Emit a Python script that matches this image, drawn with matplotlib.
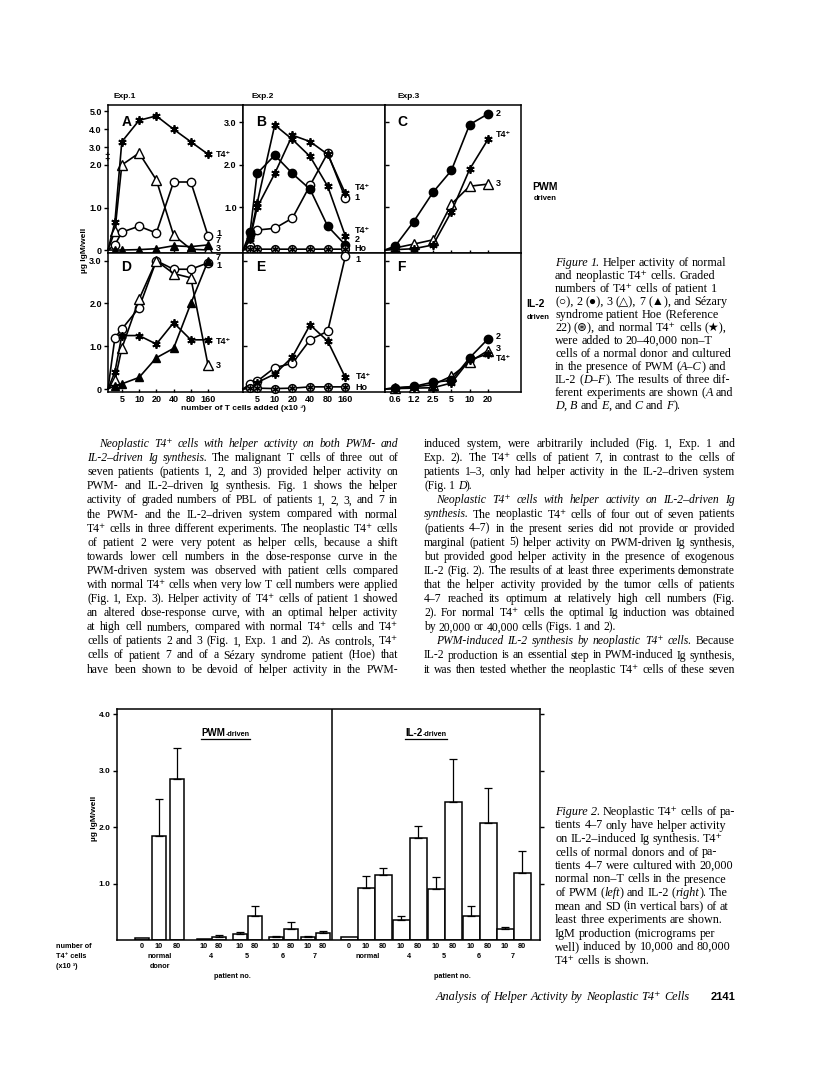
import numpy as np
import matplotlib.pyplot as plt
from matplotlib.lines import Line2D

W, H = 816, 1067
SERIF = ['Liberation Serif', 'DejaVu Serif', 'DejaVu Sans']
SANS = ['Liberation Sans', 'DejaVu Sans']
plt.rcParams['font.family'] = SANS
plt.rcParams['axes.linewidth'] = 1.1

# ---------------- Figure 1 data (ug IgM/well vs number of T cells x10^3) ----------------
dose_ab = [0, 2.5, 5, 10, 20, 40, 80, 160]
dose_cf = [0, 0.6, 1.2, 2.5, 5, 10, 20]
ticks_ab = [5, 10, 20, 40, 80, 160]
ticks_cf = [0.6, 1.2, 2.5, 5, 10, 20]
tick_labels_cf = ['0.6', '1.2', '2.5', '5', '10', '20']

a_p1 = [0, 0.12, 0.42, 0.56, 0.40, 1.6, 1.6, 0.33]
a_p3 = [0, 0.45, 2.0, 2.67, 1.65, 0.35, 0.02, 0.0]
a_p7 = [0, 0.0, 0.0, 0.01, 0.03, 0.10, 0.08, 0.12]
a_t4 = [0, 0.66, 3.3, 4.5, 4.75, 4.0, 3.3, 2.6]

b_p1 = [0, 0.10, 0.47, 0.51, 0.75, 1.52, 2.28, 1.22]
b_p2 = [0, 0.42, 1.8, 2.23, 1.8, 1.43, 0.56, 0.12]
b_t4a = [0, 0.30, 1.1, 2.94, 2.6, 2.2, 1.5, 0.33]
b_t4b = [0, 0.25, 1.0, 1.8, 2.7, 2.55, 2.25, 1.33]
b_ho = [0, 0.02, 0.02, 0.02, 0.02, 0.02, 0.02, 0.02]

c_p2 = [0, 0.10, 0.67, 1.36, 1.87, 2.95, 3.2]
c_p3 = [0, 0.05, 0.14, 0.24, 1.08, 1.5, 1.55]
c_t4 = [0, 0.01, 0.03, 0.12, 0.9, 1.9, 2.6]

d_p1 = [0, 1.2, 1.4, 1.9, 3.0, 2.8, 2.8, 2.95]
d_p3 = [0, 0.2, 0.95, 2.1, 3.0, 2.7, 2.6, 0.55]
d_p7 = [0, 0.08, 0.12, 0.27, 0.73, 0.95, 2.0, 3.0]
d_t4 = [0, 0.4, 1.25, 1.25, 1.05, 1.55, 1.15, 1.15]

e_p1 = [0, 0.12, 0.18, 0.5, 0.6, 1.15, 1.35, 3.1]
e_t4 = [0, 0.02, 0.15, 0.35, 0.75, 1.5, 1.12, 0.27]
e_ho = [0, 0.03, 0.02, 0.01, 0.02, 0.05, 0.05, 0.05]

f_p2 = [0, 0.03, 0.06, 0.16, 0.2, 0.73, 1.17]
f_p3 = [0, 0.02, 0.05, 0.10, 0.3, 0.63, 0.9]
f_t4 = [0, 0.01, 0.02, 0.03, 0.14, 0.68, 0.82]

# ---------------- Figure 2 data ----------------
bar_cells = ['0', '10', '80', '10', '80', '10', '80', '10', '80', '10', '80']
pwm_mean = [0.03, 1.85, 2.85, 0.02, 0.06, 0.10, 0.42, 0.05, 0.20, 0.05, 0.12]
pwm_sd = [0, 0.65, 0.55, 0, 0.03, 0.05, 0.18, 0.02, 0.12, 0.02, 0.04]
il2_mean = [0.05, 0.92, 1.15, 0.35, 1.80, 0.90, 2.45, 0.42, 2.08, 0.20, 1.18]
il2_sd = [0, 0.22, 0.12, 0.08, 0.22, 0.22, 0.75, 0.18, 0.62, 0.03, 0.40]

fig = plt.figure(figsize=(W / 100, H / 100), dpi=100)
fig.patch.set_facecolor('white')
renderer = fig.canvas.get_renderer()


def rect(x0, y0, x1, y1):
    return [x0 / W, 1 - y1 / H, (x1 - x0) / W, (y1 - y0) / H]


def ftext(x, y, s, **kw):
    return fig.text(x / W, 1 - y / H, s, **kw)


# ---------- text helpers (measure, justify) ----------
_cache = {}


def width(s, size, italic=False, family=SERIF, weight='normal'):
    key = (s, size, italic, tuple(family), weight)
    if key not in _cache:
        t = fig.text(0, 0, s, fontsize=size, family=family,
                     style='italic' if italic else 'normal', weight=weight)
        _cache[key] = t.get_window_extent(renderer).width
        t.remove()
    return _cache[key]


def parse(line):
    words, cur, buf, ital = [], [], '', False
    for ch in line:
        if ch == '*':
            if buf:
                cur.append((buf, ital))
                buf = ''
            ital = not ital
        elif ch == ' ':
            if buf:
                cur.append((buf, ital))
                buf = ''
            if cur:
                words.append(cur)
                cur = []
        else:
            buf += ch
    if buf:
        cur.append((buf, ital))
    if cur:
        words.append(cur)
    return words


def space(size):
    return width('a a', size) - width('aa', size)


def natural_width(line, size):
    words = parse(line)
    return sum(width(t, size, it) for w in words for t, it in w) + space(size) * (len(words) - 1)


def draw_line(line, x0, x1, y, size, justify=True, indent=0):
    words = parse(line)
    ws = [[width(t, size, it) for t, it in w] for w in words]
    total = sum(sum(w) for w in ws)
    gap = space(size)
    if justify and len(words) > 1:
        gap = (x1 - x0 - indent - total) / (len(words) - 1)
    x = x0 + indent
    for w, wl in zip(words, ws):
        for (t, it), wd in zip(w, wl):
            ftext(x, y, t, fontsize=size, family=SERIF,
                  style='italic' if it else 'normal', va='baseline')
            x += wd
        x += gap


# ---------------- Figure 1 ----------------
def dose_scale(x0, a):
    def fwd(x):
        x = np.asarray(x, dtype=float)
        return np.where(x <= x0, a * x / x0, a + np.log2(np.maximum(x, 1e-6) / x0))

    def inv(u):
        u = np.asarray(u, dtype=float)
        return np.where(u <= a, u * x0 / a, x0 * 2.0 ** (u - a))
    return fwd, inv


def ybreak_fwd(y):
    y = np.asarray(y, dtype=float)
    return np.where(y <= 2, y, 2 + (y - 2) * 0.42)


def ybreak_inv(v):
    v = np.asarray(v, dtype=float)
    return np.where(v <= 2, v, 2 + (v - 2) / 0.42)


MK = {
    'p1': dict(marker='o', ms=6, mfc='white'),
    'p2': dict(marker='o', ms=6, mfc='black'),
    'p3': dict(marker='^', ms=6.5, mfc='white'),
    'p7': dict(marker='^', ms=6, mfc='black'),
    't4': dict(marker=(6, 2, 0), ms=6, mew=1.3),
    'ho': dict(marker='o', ms=5.5, mfc='white', mew=1.1),
}

grid_x = [108, 243, 385, 521]
grid_y = [105, 253, 392]
panels = {}
for r, row in enumerate(['ABC', 'DEF']):
    for c, name in enumerate(row):
        ax = fig.add_axes(rect(grid_x[c], grid_y[r], grid_x[c + 1], grid_y[r + 1]))
        panels[name] = ax
        if c < 2:
            ax.set_xscale('function', functions=dose_scale(5, 0.8))
            ax.set_xlim(0, 650 if c == 0 else 760)
            ax.set_xticks(ticks_ab)
            ax.set_xticklabels([str(t) for t in ticks_ab] if r == 1 else [])
        else:
            ax.set_xscale('function', functions=dose_scale(0.6, 0.57))
            ax.set_xlim(0, 70)
            ax.set_xticks(ticks_cf)
            ax.set_xticklabels(tick_labels_cf if r == 1 else [])
        ax.tick_params(axis='x', direction='in', length=2, width=1, pad=2,
                       labelsize=6.5)
        ax.tick_params(axis='y', labelsize=6.5, width=1, pad=1.5)
        for lab in ax.get_xticklabels():
            lab.set_fontweight('bold')
        ax.text(0.09 if c else 0.1, 0.86 if r == 0 else 0.87, name,
                transform=ax.transAxes, fontsize=10, fontweight='bold')

axA = panels['A']
axA.set_yscale('function', functions=(ybreak_fwd, ybreak_inv))
axA.set_ylim(-0.07, 5.36)
axA.set_yticks([0, 1, 2, 3, 4, 5])
axA.set_yticklabels(['0', '1.0', '2.0', '3.0', '4.0', '5.0'], fontweight='bold')
axA.tick_params(axis='y', direction='out', length=3)
axA.text(-0.005, 2.42, '\u2021', transform=axA.get_yaxis_transform(), ha='center',
         va='center', fontsize=7, fontweight='bold', clip_on=False)
for name in 'BC':
    panels[name].set_ylim(-0.07, 3.41)
    panels[name].set_yticks([1, 2, 3])
panels['B'].set_yticklabels(['1.0', '2.0', '3.0'], fontweight='bold')
panels['B'].tick_params(axis='y', direction='out', length=3)
panels['C'].set_yticklabels([])
panels['C'].tick_params(axis='y', direction='in', length=3)
for name in 'DEF':
    panels[name].set_ylim(-0.07, 3.18)
panels['D'].set_yticks([0, 1, 2, 3])
panels['D'].set_yticklabels(['0', '1.0', '2.0', '3.0'], fontweight='bold')
panels['D'].tick_params(axis='y', direction='out', length=3)
for name in 'EF':
    panels[name].set_yticks([1, 2, 3])
    panels[name].set_yticklabels([])
    panels[name].tick_params(axis='y', direction='in', length=3)

T4 = 'T4\u207a'
series = {
    'A': [(dose_ab, a_p3, 'p3'), (dose_ab, a_p1, 'p1'), (dose_ab, a_p7, 'p7'), (dose_ab, a_t4, 't4')],
    'B': [(dose_ab, b_p1, 'p1'), (dose_ab, b_p2, 'p2'), (dose_ab, b_t4a, 't4'),
          (dose_ab, b_t4b, 't4'), (dose_ab, b_ho, 'ho')],
    'C': [(dose_cf, c_p3, 'p3'), (dose_cf, c_t4, 't4'), (dose_cf, c_p2, 'p2')],
    'D': [(dose_ab, d_p1, 'p1'), (dose_ab, d_p3, 'p3'), (dose_ab, d_p7, 'p7'), (dose_ab, d_t4, 't4')],
    'E': [(dose_ab, e_p1, 'p1'), (dose_ab, e_t4, 't4'), (dose_ab, e_ho, 'ho')],
    'F': [(dose_cf, f_p3, 'p3'), (dose_cf, f_t4, 't4'), (dose_cf, f_p2, 'p2')],
}
end_labels = {
    'A': [(220, 2.57, T4), (220, 0.40, '1'), (220, 0.22, '7'), (220, 0.04, '3')],
    'B': [(230, 1.48, T4), (230, 1.24, '1'), (230, 0.47, T4), (230, 0.25, '2'), (230, 0.04, 'Ho')],
    'C': [(27, 3.2, '2'), (27, 2.72, T4), (27, 1.57, '3')],
    'D': [(220, 3.08, '7'), (220, 2.88, '1'), (220, 1.12, T4), (220, 0.54, '3')],
    'E': [(240, 3.02, '1'), (240, 0.3, T4), (240, 0.03, 'Ho')],
    'F': [(27, 1.22, '2'), (27, 0.95, '3'), (27, 0.72, T4)],
}
for name, lst in series.items():
    ax = panels[name]
    for x, y, kind in lst:
        ax.plot(x, y, color='black', lw=1.2, mec='black', markevery=slice(1, None),
                clip_on=False, zorder=3, **MK[kind])
        if kind == 'ho':
            # circled asterisk for patient Hoe
            ax.plot(x[1:], y[1:], ls='none', marker=(6, 2, 0), ms=4.2, mew=1,
                    color='black', clip_on=False, zorder=4)
    for x, y, s in end_labels[name]:
        ax.text(x, y, s, fontsize=6.5, fontweight='bold', va='center', ha='left')

for x, s in [(114, 'Exp.1'), (252, 'Exp.2'), (398, 'Exp.3')]:
    ftext(x, 97, s, fontsize=6, fontweight='bold', va='center')
ftext(85, 250, '\u00b5g IgM/well', rotation=90, fontsize=6, fontweight='bold',
      ha='center', va='center')
ftext(243, 409, 'number of T cells added (x10 \u00b3)', fontsize=6, fontweight='bold',
      ha='center', va='center')
ftext(532, 187, 'PWM', fontsize=7.5, fontweight='bold', va='center')
ftext(534, 199, 'driven', fontsize=5.5, fontweight='bold', va='center')
ftext(526, 304, 'IL-2', fontsize=7.5, fontweight='bold', va='center')
ftext(527, 317, 'driven', fontsize=5.5, fontweight='bold', va='center')

# ---------------- Figure 2 ----------------
pwm_x = [142, 159, 177, 204, 219, 240, 255, 276, 291, 308, 323]
il2_x = [349, 366, 383, 401, 418, 436, 453, 471, 488, 505, 522]
ax2 = fig.add_axes(rect(117, 709, 540, 940))
ax2.set_xlim(117, 540)
ax2.set_ylim(0, 4.09)
for xs, mean, sd, bw in [(pwm_x, pwm_mean, pwm_sd, 14), (il2_x, il2_mean, il2_sd, 17)]:
    ax2.bar(xs, mean, width=bw, color='white', edgecolor='black', linewidth=1.1, zorder=2)
    xe = [x for x, s in zip(xs, sd) if s > 0]
    me = [m for m, s in zip(mean, sd) if s > 0]
    se = [s for s in sd if s > 0]
    ax2.errorbar(xe, me, yerr=[np.zeros(len(se)), se], fmt='none', ecolor='black',
                 elinewidth=0.9, capsize=3, capthick=0.9, zorder=3)
    for x, lab in zip(xs, bar_cells):
        ax2.text(x, -0.05, lab, ha='center', va='top', fontsize=5.3, fontweight='bold',
                 clip_on=False)
ax2.axvline(332, color='black', lw=1.1)
ax2.set_xticks([])
ax2.set_yticks([1, 2, 3, 4])
ax2.set_yticklabels(['1.0', '2.0', '3.0', '4.0'], fontweight='bold')
ax2.tick_params(axis='y', direction='out', length=3, labelsize=6, right=True, width=1,
                pad=1.5)

ftext(95, 818, '\u00b5g IgM/well', rotation=90, fontsize=6, fontweight='bold',
      ha='center', va='center')


def underlined_title(x, y, big, small):
    w1 = width(big, 7, family=SANS, weight='bold')
    w2 = width(small, 5.2, family=SANS, weight='bold')
    ftext(x, y, big, fontsize=7, fontweight='bold', va='baseline')
    ftext(x + w1 + 0.5, y, small, fontsize=5.2, fontweight='bold', va='baseline')
    fig.add_artist(Line2D([x / W, (x + w1 + w2 + 1) / W], [1 - (y + 3) / H] * 2,
                          color='black', lw=0.9))


underlined_title(201, 736, 'PWM', '-driven')
underlined_title(405, 736, 'IL-2', '-driven')

for y, s in [(946, 'number of'), (956, T4 + ' cells'), (966, '(x10 \u00b3)')]:
    ftext(56, y, s, fontsize=5.2, fontweight='bold', va='center')
ftext(160, 956, 'normal', fontsize=5.2, fontweight='bold', va='center', ha='center')
ftext(160, 966, 'donor', fontsize=5.2, fontweight='bold', va='center', ha='center')
for x, s in [(211, '4'), (247, '5'), (283, '6'), (315, '7')]:
    ftext(x, 956, s, fontsize=5.2, fontweight='bold', va='center', ha='center')
ftext(232, 977, 'patient no.', fontsize=5.2, fontweight='bold', va='center', ha='center')
ftext(368, 956, 'normal', fontsize=5.2, fontweight='bold', va='center', ha='center')
for x, s in [(409, '4'), (444, '5'), (479, '6'), (513, '7')]:
    ftext(x, 956, s, fontsize=5.2, fontweight='bold', va='center', ha='center')
ftext(452, 977, 'patient no.', fontsize=5.2, fontweight='bold', va='center', ha='center')

# ---------------- captions and body text ----------------
cap1 = [
    "*Figure 1.* Helper activity of normal",
    "and neoplastic T4\u207a cells. Graded",
    "numbers of T4\u207a cells of patient 1",
    "(\u25cb), 2 (\u25cf), 3 (\u25b3), 7 (\u25b2), and S\u00e9zary",
    "syndrome patient Hoe (Reference",
    "22) (\u229b), and normal T4\u207a cells (\u2605),",
    "were added to 20\u201340,000 non\u2013T",
    "cells of a normal donor and cultured",
    "in the presence of PWM (*A\u2013C*) and",
    "IL-2 (*D\u2013F*). The results of three dif-",
    "ferent experiments are shown (*A* and",
    "*D*, *B* and *E*, and *C* and *F*).",
]
cap2 = [
    "*Figure 2.* Neoplastic T4\u207a cells of pa-",
    "tients 4\u20137 only have helper activity",
    "on IL-2\u2013induced Ig synthesis. T4\u207a",
    "cells of normal donors and of pa-",
    "tients 4\u20137 were cultured with 20,000",
    "normal non\u2013T cells in the presence",
    "of PWM (*left*) and IL-2 (*right*). The",
    "mean and SD (in vertical bars) of at",
    "least three experiments are shown.",
    "IgM production (micrograms per",
    "well) induced by 10,000 and 80,000",
    "T4\u207a cells is shown.",
]
left_col = [
    "*Neoplastic T4\u207a cells with helper activity on both PWM- and*",
    "*IL-2\u2013driven Ig synthesis.* The malignant T cells of three out of",
    "seven patients (patients 1, 2, and 3) provided helper activity on",
    "PWM- and IL-2\u2013driven Ig synthesis. Fig. 1 shows the helper",
    "activity of graded numbers of PBL of patients 1, 2, 3, and 7 in",
    "the PWM- and the IL-2\u2013driven system compared with normal",
    "T4\u207a cells in three different experiments. The neoplastic T4\u207a cells",
    "of patient 2 were very potent as helper cells, because a shift",
    "towards lower cell numbers in the dose-response curve in the",
    "PWM-driven system was observed with patient cells compared",
    "with normal T4\u207a cells when very low T cell numbers were applied",
    "(Fig. 1, Exp. 3). Helper activity of T4\u207a cells of patient 1 showed",
    "an altered dose-response curve, with an optimal helper activity",
    "at high cell numbers, compared with normal T4\u207a cells and T4\u207a",
    "cells of patients 2 and 3 (Fig. 1, Exp. 1 and 2). As controls, T4\u207a",
    "cells of patient 7 and of a S\u00e9zary syndrome patient (Hoe) that",
    "have been shown to be devoid of helper activity in the PWM-",
]
right_col = [
    "induced system, were arbitrarily included (Fig. 1, Exp. 1 and",
    "Exp. 2). The T4\u207a cells of patient 7, in contrast to the cells of",
    "patients 1\u20133, only had helper activity in the IL-2\u2013driven system",
    "(Fig. 1 *D*).",
    "*Neoplastic T4\u207a cells with helper activity on IL-2\u2013driven Ig*",
    "*synthesis.* The neoplastic T4\u207a cells of four out of seven patients",
    "(patients 4\u20137) in the present series did not provide or provided",
    "marginal (patient 5) helper activity on PWM-driven Ig synthesis,",
    "but provided good helper activity in the presence of exogenous",
    "IL-2 (Fig. 2). The results of at least three experiments demonstrate",
    "that the helper activity provided by the tumor cells of patients",
    "4\u20137 reached its optimum at relatively high cell numbers (Fig.",
    "2). For normal T4\u207a cells the optimal Ig induction was obtained",
    "by 20,000 or 40,000 cells (Figs. 1 and 2).",
    "*PWM-induced IL-2 synthesis by neoplastic T4\u207a cells.* Because",
    "IL-2 production is an essential step in PWM-induced Ig synthesis,",
    "it was then tested whether the neoplastic T4\u207a cells of these seven",
]
left_indent = {0}
right_indent = {4, 14}
right_ragged = {3, 13}

col_w = 311
left_x, right_x = 87, 424
cap_x0, cap_x1 = 555, 735
body_size = 10 * col_w / max(natural_width(l, 10) for l in left_col + right_col)
cap_size = 10 * (cap_x1 - cap_x0) / max(natural_width(l, 10) for l in cap1 + cap2)

for i, line in enumerate(cap1):
    draw_line(line, cap_x0, cap_x1, 266 + i * 13.0, cap_size, justify=False)
for i, line in enumerate(cap2):
    draw_line(line, cap_x0, cap_x1, 815 + i * 13.5, cap_size, justify=False)
for i, line in enumerate(left_col):
    draw_line(line, left_x, left_x + col_w, 447 + i * 14.1, body_size, justify=True,
              indent=12 if i in left_indent else 0)
for i, line in enumerate(right_col):
    draw_line(line, right_x, right_x + col_w, 447 + i * 14.1, body_size,
              justify=i not in right_ragged, indent=12 if i in right_indent else 0)

footer = "*Analysis of Helper Activity by Neoplastic T4\u207a Cells*"
fsize = body_size * 1.05
fw = natural_width(footer, fsize)
draw_line(footer, 689 - fw, 689, 1000, fsize, justify=False)
ftext(735, 1000, '2141', fontsize=body_size * 0.95, fontweight='bold', va='baseline',
      ha='right')

fig.savefig('out.png', dpi=100, facecolor='white')
